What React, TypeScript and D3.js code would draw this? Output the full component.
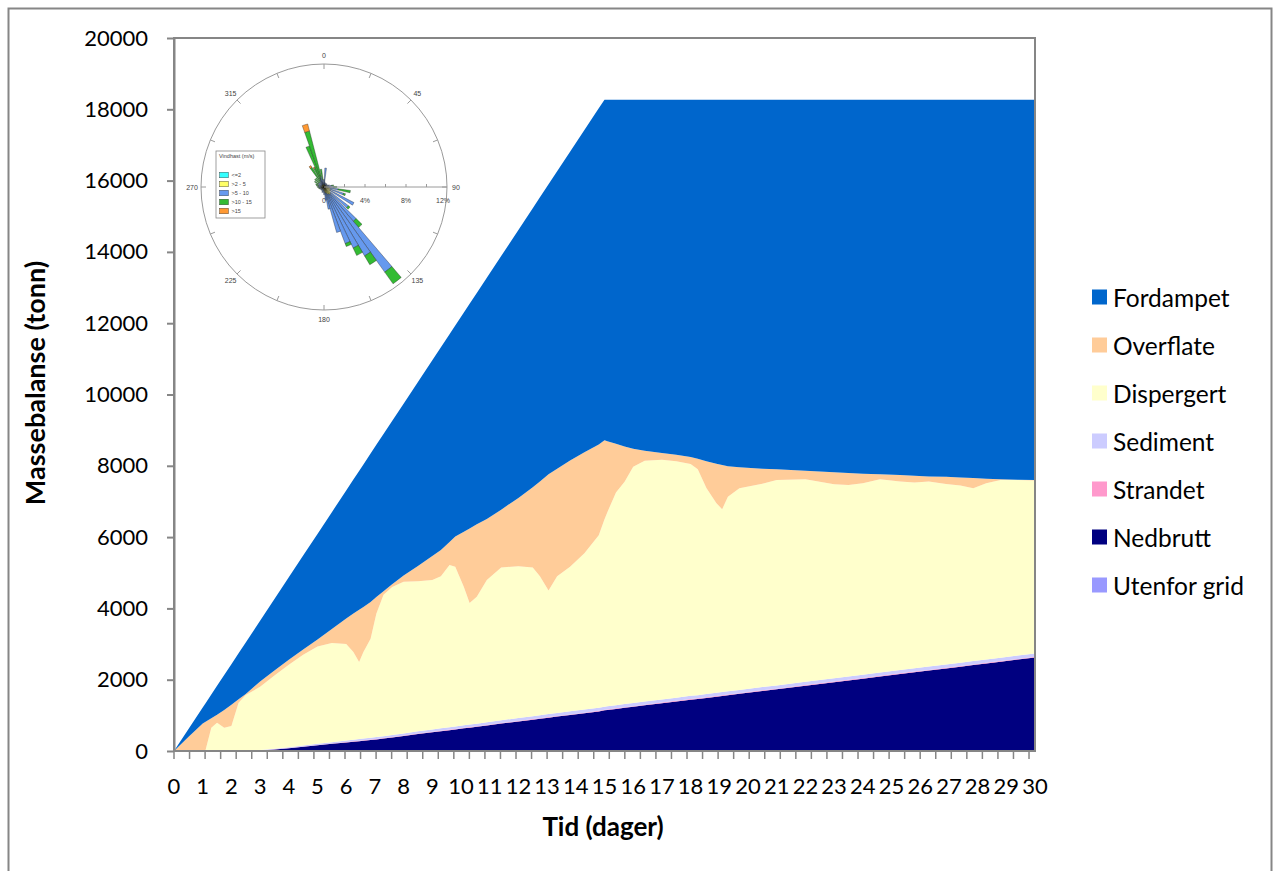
import React, { useEffect, useRef } from 'react';
import * as d3 from 'd3';

// time in days (irregular samples)
const days = [
  0, 0.5, 1, 1.1, 1.3, 1.5, 1.75, 2, 2.25, 2.5,
  3, 3.5, 4, 4.5, 5, 5.5, 6,
  6.25, 6.45, 6.6, 6.85, 7.05, 7.3, 7.6, 8, 8.5, 9, 9.3, 9.6, 9.8, 10.1, 10.3, 10.55, 10.9, 11.4, 12,
  12.5, 12.75, 13.05, 13.35, 13.8, 14.3, 14.8, 15, 15.1, 15.4, 15.7, 16,
  16.4, 17, 17.5, 18, 18.25, 18.55, 18.9, 19.1, 19.3, 19.7, 20.5, 21,
  22, 23, 23.5, 24, 24.6, 25.3, 25.8, 26.3, 26.9, 27.4, 27.85, 28.3, 28.8, 29.4, 30,
];

const fordampet = [
  0, 219, 448, 520, 663, 807, 982, 1136, 1291, 1445,
  1704, 2003, 2312, 2631, 2960, 3279, 3588,
  3753, 3896, 3999, 4163, 4267, 4411, 4577, 4824, 5163, 5492, 5687, 5833, 5916, 6152, 6305, 6490, 6766, 7115, 7516,
  7825, 7970, 8135, 8340, 8658, 9037, 9426, 9550, 9580, 9650, 9730, 9790,
  9850, 9910, 9960, 10020, 10070, 10140, 10210, 10250, 10280, 10310, 10350, 10370,
  10410, 10450, 10470, 10490, 10510, 10530, 10550, 10570, 10580, 10600, 10610, 10630, 10650, 10660, 10670,
];

const overflate = [
  0, 390, 770, 790, 270, 230, 500, 600, 100, 30,
  150, 140, 140, 150, 200, 390, 720,
  1080, 1460, 1260, 1030, 470, 100, 80, 170, 430, 670, 740, 640, 850, 1550, 2090, 2030, 1710, 1620, 1920,
  2250, 2660, 3260, 3020, 2980, 2830, 2550, 2220, 1990, 1370, 990, 510,
  280, 190, 180, 200, 300, 750, 1110, 1240, 860, 590, 420, 300,
  240, 340, 340, 270, 140, 180, 190, 140, 200, 220, 290, 130, 20, 10, 10,
];

const dispergert = [
  0, 0, 0, 30, 650, 790, 648, 697, 1346, 1565,
  1773, 2056, 2314, 2547, 2730, 2783, 2706,
  2463, 2165, 2431, 2779, 3460, 3963, 4151, 4257, 4209, 4196, 4264, 4553, 4482, 3880, 3409, 3563, 3996, 4288, 4255,
  4172, 3896, 3465, 3834, 4058, 4387, 4836, 5256, 5446, 5966, 6235, 6625,
  6754, 6723, 6633, 6503, 6333, 5782, 5317, 5127, 5457, 5657, 5706, 5761,
  5680, 5439, 5369, 5369, 5419, 5288, 5208, 5193, 5063, 4972, 4847, 4942, 4982, 4922, 4852,
];

const sediment = [
  0, 0, 0, 0, 0, 0, 2, 3, 4, 5,
  10, 15, 20, 25, 30, 35, 40,
  42, 44, 46, 48, 50, 52, 54, 58, 61, 64, 66, 67, 68, 70, 71, 72, 74, 77, 80,
  82, 83, 84, 85, 86, 87, 88, 88, 88, 88, 89, 89,
  89, 90, 90, 90, 90, 91, 91, 91, 91, 91, 92, 92,
  92, 93, 93, 93, 93, 94, 94, 94, 94, 95, 95, 95, 95, 95, 95,
];

const strandet = [
  0, 0, 0, 0, 0, 0, 0, 0, 0, 0,
  2, 4, 6, 8, 10, 12, 14,
  15, 15, 15, 15, 15, 15, 15, 15, 15, 15, 15, 15, 15, 15, 15, 15, 15, 15, 15,
  16, 16, 16, 16, 16, 16, 16, 16, 16, 16, 16, 16,
  17, 17, 17, 17, 17, 17, 17, 17, 17, 17, 17, 17,
  18, 18, 18, 18, 18, 18, 18, 18, 18, 18, 18, 18, 18, 18, 18,
];

const nedbrutt = [
  0, 0, 0, 0, 0, 0, 0, 0, 0, 0,
  15, 45, 80, 120, 160, 200, 240,
  260, 276, 288, 308, 325, 350, 380, 420, 475, 525, 555, 585, 605, 635, 655, 680, 715, 770, 830,
  880, 905, 935, 965, 1010, 1060, 1110, 1140, 1150, 1180, 1210, 1240,
  1280, 1340, 1390, 1440, 1460, 1490, 1525, 1545, 1565, 1605, 1685, 1730,
  1830, 1930, 1980, 2030, 2090, 2160, 2210, 2255, 2315, 2365, 2410, 2455, 2505, 2565, 2625,
];

const utenforGrid = [
  0, 0, 0, 0, 0, 0, 0, 0, 0, 0,
  0, 0, 0, 0, 0, 0, 0,
  0, 0, 0, 0, 0, 0, 0, 0, 0, 0, 0, 0, 0, 0, 0, 0, 0, 0, 0,
  0, 0, 0, 0, 0, 0, 0, 0, 0, 0, 0, 0,
  0, 0, 0, 0, 0, 0, 0, 0, 0, 0, 0, 0,
  0, 0, 0, 0, 0, 0, 0, 0, 0, 0, 0, 0, 0, 0, 0,
];

const seriesNames = ['Fordampet', 'Overflate', 'Dispergert', 'Sediment', 'Strandet', 'Nedbrutt', 'Utenfor grid'];
const seriesColors = ['#0066CC', '#FFCC99', '#FFFFCC', '#CCCCFF', '#FF99CC', '#000080', '#9999FF'];

const yTicks = [0, 2000, 4000, 6000, 8000, 10000, 12000, 14000, 16000, 18000, 20000];
const dayLabels = [0, 1, 2, 3, 4, 5, 6, 7, 8, 9, 10, 11, 12, 13, 14, 15, 16, 17, 18, 19, 20, 21, 22, 23, 24, 25, 26, 27, 28, 29, 30];

// wind rose inset: bearing of each sector and percentage per speed class
const roseDirs = [0, 5, 10, 20, 30, 40, 50, 60, 70, 80, 90, 100, 110, 120, 130, 137, 142, 147, 152, 157, 162, 167, 172, 180,
  190, 200, 210, 220, 230, 240, 250, 260, 270, 280, 290, 300, 310, 318, 326, 333, 338, 343, 350];
const roseCalm = [0.05, 0.05, 0.05, 0.05, 0.05, 0.05, 0.05, 0.05, 0.05, 0.05, 0.05, 0.1, 0.1, 0.1, 0.1, 0.1, 0.1, 0.1, 0.1, 0.1, 0.1, 0.1, 0.1, 0.05,
  0.05, 0.05, 0.05, 0.05, 0.05, 0.05, 0.05, 0.05, 0.05, 0.05, 0.05, 0.05, 0.05, 0.05, 0.05, 0.05, 0.05, 0.05, 0.05];
const roseLight = [0.2, 0.2, 0.15, 0.15, 0.15, 0.15, 0.1, 0.15, 0.2, 0.2, 0.3, 0.4, 0.5, 0.6, 0.7, 0.8, 0.8, 0.7, 0.7, 0.6, 0.5, 0.5, 0.4, 0.3,
  0.2, 0.2, 0.15, 0.15, 0.15, 0.15, 0.15, 0.2, 0.2, 0.2, 0.2, 0.2, 0.2, 0.2, 0.2, 0.2, 0.2, 0.2, 0.2];
const roseModerate = [0.4, 1.6, 0.3, 0.2, 0.2, 0.2, 0.2, 0.2, 0.3, 0.5, 0.6, 0.9, 1.4, 2.6, 2.2, 3.5, 9.3, 7.0, 5.8, 5.2, 4.0, 1.6, 0.8, 0.4,
  0.3, 0.3, 0.2, 0.2, 0.2, 0.2, 0.2, 0.2, 0.3, 0.3, 0.3, 0.4, 0.4, 0.3, 0.4, 0.5, 0.6, 0.8, 0.5];
const roseStrong = [0.1, 0, 0, 0, 0, 0, 0, 0, 0, 0.2, 0.3, 1.2, 0.2, 0, 0.2, 0.8, 1.4, 1.0, 0.8, 0.3, 0, 0, 0, 0,
  0, 0, 0, 0, 0, 0, 0.1, 0.1, 0.1, 0.2, 0.3, 0.4, 0.5, 0.6, 1.6, 1.3, 3.4, 4.6, 1.0];
const roseGale = [0, 0, 0, 0, 0, 0, 0, 0, 0, 0, 0, 0, 0, 0, 0, 0, 0, 0, 0, 0, 0, 0, 0, 0,
  0, 0, 0, 0, 0, 0, 0, 0, 0, 0, 0, 0, 0, 0, 0.2, 0.1, 0, 0.7, 0];
const roseClasses = ['<=2', '>2 - 5', '>5 - 10', '>10 - 15', '>15'];
const roseColors = ['#33FFFF', '#FFFF66', '#6699EE', '#33BB33', '#FF9933'];
const compassLabels = [0, 45, 90, 135, 180, 225, 270, 315];
const radialLabels = ['0', '4%', '8%', '12%'];

const App = () => {
  const ref = useRef<SVGSVGElement>(null);

  useEffect(() => {
    const svg = d3.select(ref.current);
    svg.selectAll('*').remove();

    const font = 'Lato, "Open Sans", sans-serif';
    const grey = '#868686';

    // chart frame
    svg.append('rect')
      .attr('x', 8.5).attr('y', 8.5)
      .attr('width', 1263).attr('height', 890)
      .attr('fill', '#fff')
      .attr('stroke', grey)
      .attr('stroke-width', 2);

    const left = 174, right = 1035, top = 38, bottom = 751;
    const x = d3.scaleLinear().domain([0, 30]).range([left, right]);
    const y = d3.scaleLinear().domain([0, 20000]).range([bottom, top]);

    const rows = days.map((d, i) => ({
      day: d,
      'Utenfor grid': utenforGrid[i],
      Nedbrutt: nedbrutt[i],
      Strandet: strandet[i],
      Sediment: sediment[i],
      Dispergert: dispergert[i],
      Overflate: overflate[i],
      Fordampet: fordampet[i],
    }));

    const color = d3.scaleOrdinal<string, string>().domain(seriesNames).range(seriesColors);
    const stacked = d3.stack<any>().keys([...seriesNames].reverse())(rows);

    const area = d3.area<any>()
      .x(d => x(d.data.day))
      .y0(d => y(d[0]))
      .y1(d => y(d[1]));

    svg.append('g')
      .selectAll('path')
      .data(stacked)
      .join('path')
      .attr('d', area)
      .attr('fill', d => color(d.key));

    // plot area border
    svg.append('rect')
      .attr('x', left).attr('y', top)
      .attr('width', right - left).attr('height', bottom - top)
      .attr('fill', 'none')
      .attr('stroke', grey)
      .attr('stroke-width', 2);

    // y axis
    const yAxis = svg.append('g')
      .attr('transform', `translate(${left},0)`)
      .call(d3.axisLeft(y).tickValues(yTicks).tickSize(7).tickSizeOuter(0).tickPadding(19).tickFormat(d3.format('d')));
    yAxis.select('.domain').attr('stroke', grey).attr('stroke-width', 2);
    yAxis.selectAll('line').attr('stroke', grey).attr('stroke-width', 2);
    yAxis.selectAll('text').attr('font-family', font).attr('font-size', 22).attr('fill', '#000');

    // x axis ticks (one every 13 hours) and day labels
    const tickDays = d3.range(0, 30 * 24, 13).map(h => h / 24);
    svg.append('g')
      .selectAll('line')
      .data(tickDays)
      .join('line')
      .attr('x1', d => x(d)).attr('x2', d => x(d))
      .attr('y1', bottom).attr('y2', bottom + 8)
      .attr('stroke', grey)
      .attr('stroke-width', 1.5);

    svg.append('g')
      .selectAll('text')
      .data(dayLabels)
      .join('text')
      .attr('x', d => x(d))
      .attr('y', 785)
      .attr('text-anchor', 'middle')
      .attr('dominant-baseline', 'central')
      .attr('font-family', font)
      .attr('font-size', 22)
      .text(d => d);

    // axis titles
    svg.append('text')
      .attr('transform', 'translate(34,383) rotate(-90)')
      .attr('text-anchor', 'middle')
      .attr('dominant-baseline', 'central')
      .attr('font-family', font)
      .attr('font-weight', 'bold')
      .attr('font-size', 27)
      .text('Massebalanse (tonn)');

    svg.append('text')
      .attr('x', 603).attr('y', 826)
      .attr('text-anchor', 'middle')
      .attr('dominant-baseline', 'central')
      .attr('font-family', font)
      .attr('font-weight', 'bold')
      .attr('font-size', 26)
      .text('Tid (dager)');

    // legend
    const legend = svg.append('g')
      .selectAll('g')
      .data(seriesNames)
      .join('g')
      .attr('transform', (d, i) => `translate(1092,${297 + i * 48})`);
    legend.append('rect')
      .attr('x', 0).attr('y', -7.5)
      .attr('width', 15).attr('height', 15)
      .attr('fill', d => color(d));
    legend.append('text')
      .attr('x', 21).attr('y', 0)
      .attr('dominant-baseline', 'central')
      .attr('font-family', font)
      .attr('font-size', 24.5)
      .text(d => d);

    // wind rose inset
    const R = 123;
    const rr = d3.scaleLinear().domain([0, 12]).range([0, R]);
    const rose = svg.append('g').attr('transform', 'translate(324,187)');
    const small = 'Arial, "Liberation Sans", sans-serif';
    const rad = (a: number) => (a * Math.PI) / 180;

    rose.append('circle').attr('r', R).attr('fill', 'none').attr('stroke', '#9a9a9a').attr('stroke-width', 1);

    rose.selectAll('line.ct')
      .data(d3.range(0, 360, 22.5))
      .join('line')
      .attr('class', 'ct')
      .attr('x1', d => Math.sin(rad(d)) * (R - 5))
      .attr('y1', d => -Math.cos(rad(d)) * (R - 5))
      .attr('x2', d => Math.sin(rad(d)) * R)
      .attr('y2', d => -Math.cos(rad(d)) * R)
      .attr('stroke', '#9a9a9a');

    rose.selectAll('text.cl')
      .data(compassLabels)
      .join('text')
      .attr('class', 'cl')
      .attr('x', d => Math.sin(rad(d)) * (R + 9))
      .attr('y', d => -Math.cos(rad(d)) * (R + 9))
      .attr('text-anchor', 'middle')
      .attr('dominant-baseline', 'central')
      .attr('font-family', small)
      .attr('font-size', 7)
      .attr('fill', '#444')
      .text(d => d);

    // sectors
    const arc = d3.arc<any>();
    const classValues = [roseCalm, roseLight, roseModerate, roseStrong, roseGale];
    roseDirs.forEach((dir, i) => {
      let acc = 0;
      classValues.forEach((vals, j) => {
        const v = vals[i];
        if (!v) return;
        rose.append('path')
          .attr('d', arc({
            innerRadius: rr(acc),
            outerRadius: rr(acc + v),
            startAngle: rad(dir - 2.5),
            endAngle: rad(dir + 2.5),
          }))
          .attr('fill', roseColors[j])
          .attr('stroke', '#1a1a1a')
          .attr('stroke-width', 0.35);
        acc += v;
      });
    });

    // radial scale along east
    rose.append('line').attr('x1', 0).attr('x2', R).attr('y1', 0).attr('y2', 0).attr('stroke', '#9a9a9a');
    rose.selectAll('line.rt')
      .data([2, 4, 6, 8, 10])
      .join('line')
      .attr('class', 'rt')
      .attr('x1', d => rr(d)).attr('x2', d => rr(d))
      .attr('y1', 0).attr('y2', -3)
      .attr('stroke', '#9a9a9a');
    rose.selectAll('text.rl')
      .data(radialLabels)
      .join('text')
      .attr('class', 'rl')
      .attr('x', (d, i) => rr(i * 4) + (i === 3 ? -4 : 0))
      .attr('y', 16)
      .attr('text-anchor', 'middle')
      .attr('font-family', small)
      .attr('font-size', 7)
      .attr('fill', '#444')
      .text(d => d);

    // rose legend
    const rl = svg.append('g').attr('transform', 'translate(216,151)');
    rl.append('rect').attr('width', 49).attr('height', 67).attr('fill', '#fff').attr('stroke', '#888').attr('stroke-width', 0.8);
    rl.append('text')
      .attr('x', 3).attr('y', 7)
      .attr('font-family', small).attr('font-size', 5.5).attr('fill', '#444')
      .text('Vindhast (m/s)');
    const items = rl.selectAll('g')
      .data(roseClasses)
      .join('g')
      .attr('transform', (d, i) => `translate(3.5,${24 + i * 9})`);
    items.append('rect')
      .attr('y', -2.8).attr('width', 9).attr('height', 5.6)
      .attr('fill', (d, i) => roseColors[i])
      .attr('stroke', '#333').attr('stroke-width', 0.4);
    items.append('text')
      .attr('x', 12).attr('y', 0)
      .attr('dominant-baseline', 'central')
      .attr('font-family', small).attr('font-size', 5.5).attr('fill', '#444')
      .text(d => d);
  }, []);

  return (
    <svg
      ref={ref}
      width={1276}
      height={871}
      style={{ position: 'absolute', left: 0, top: 0 }}
    />
  );
};

export default App;
